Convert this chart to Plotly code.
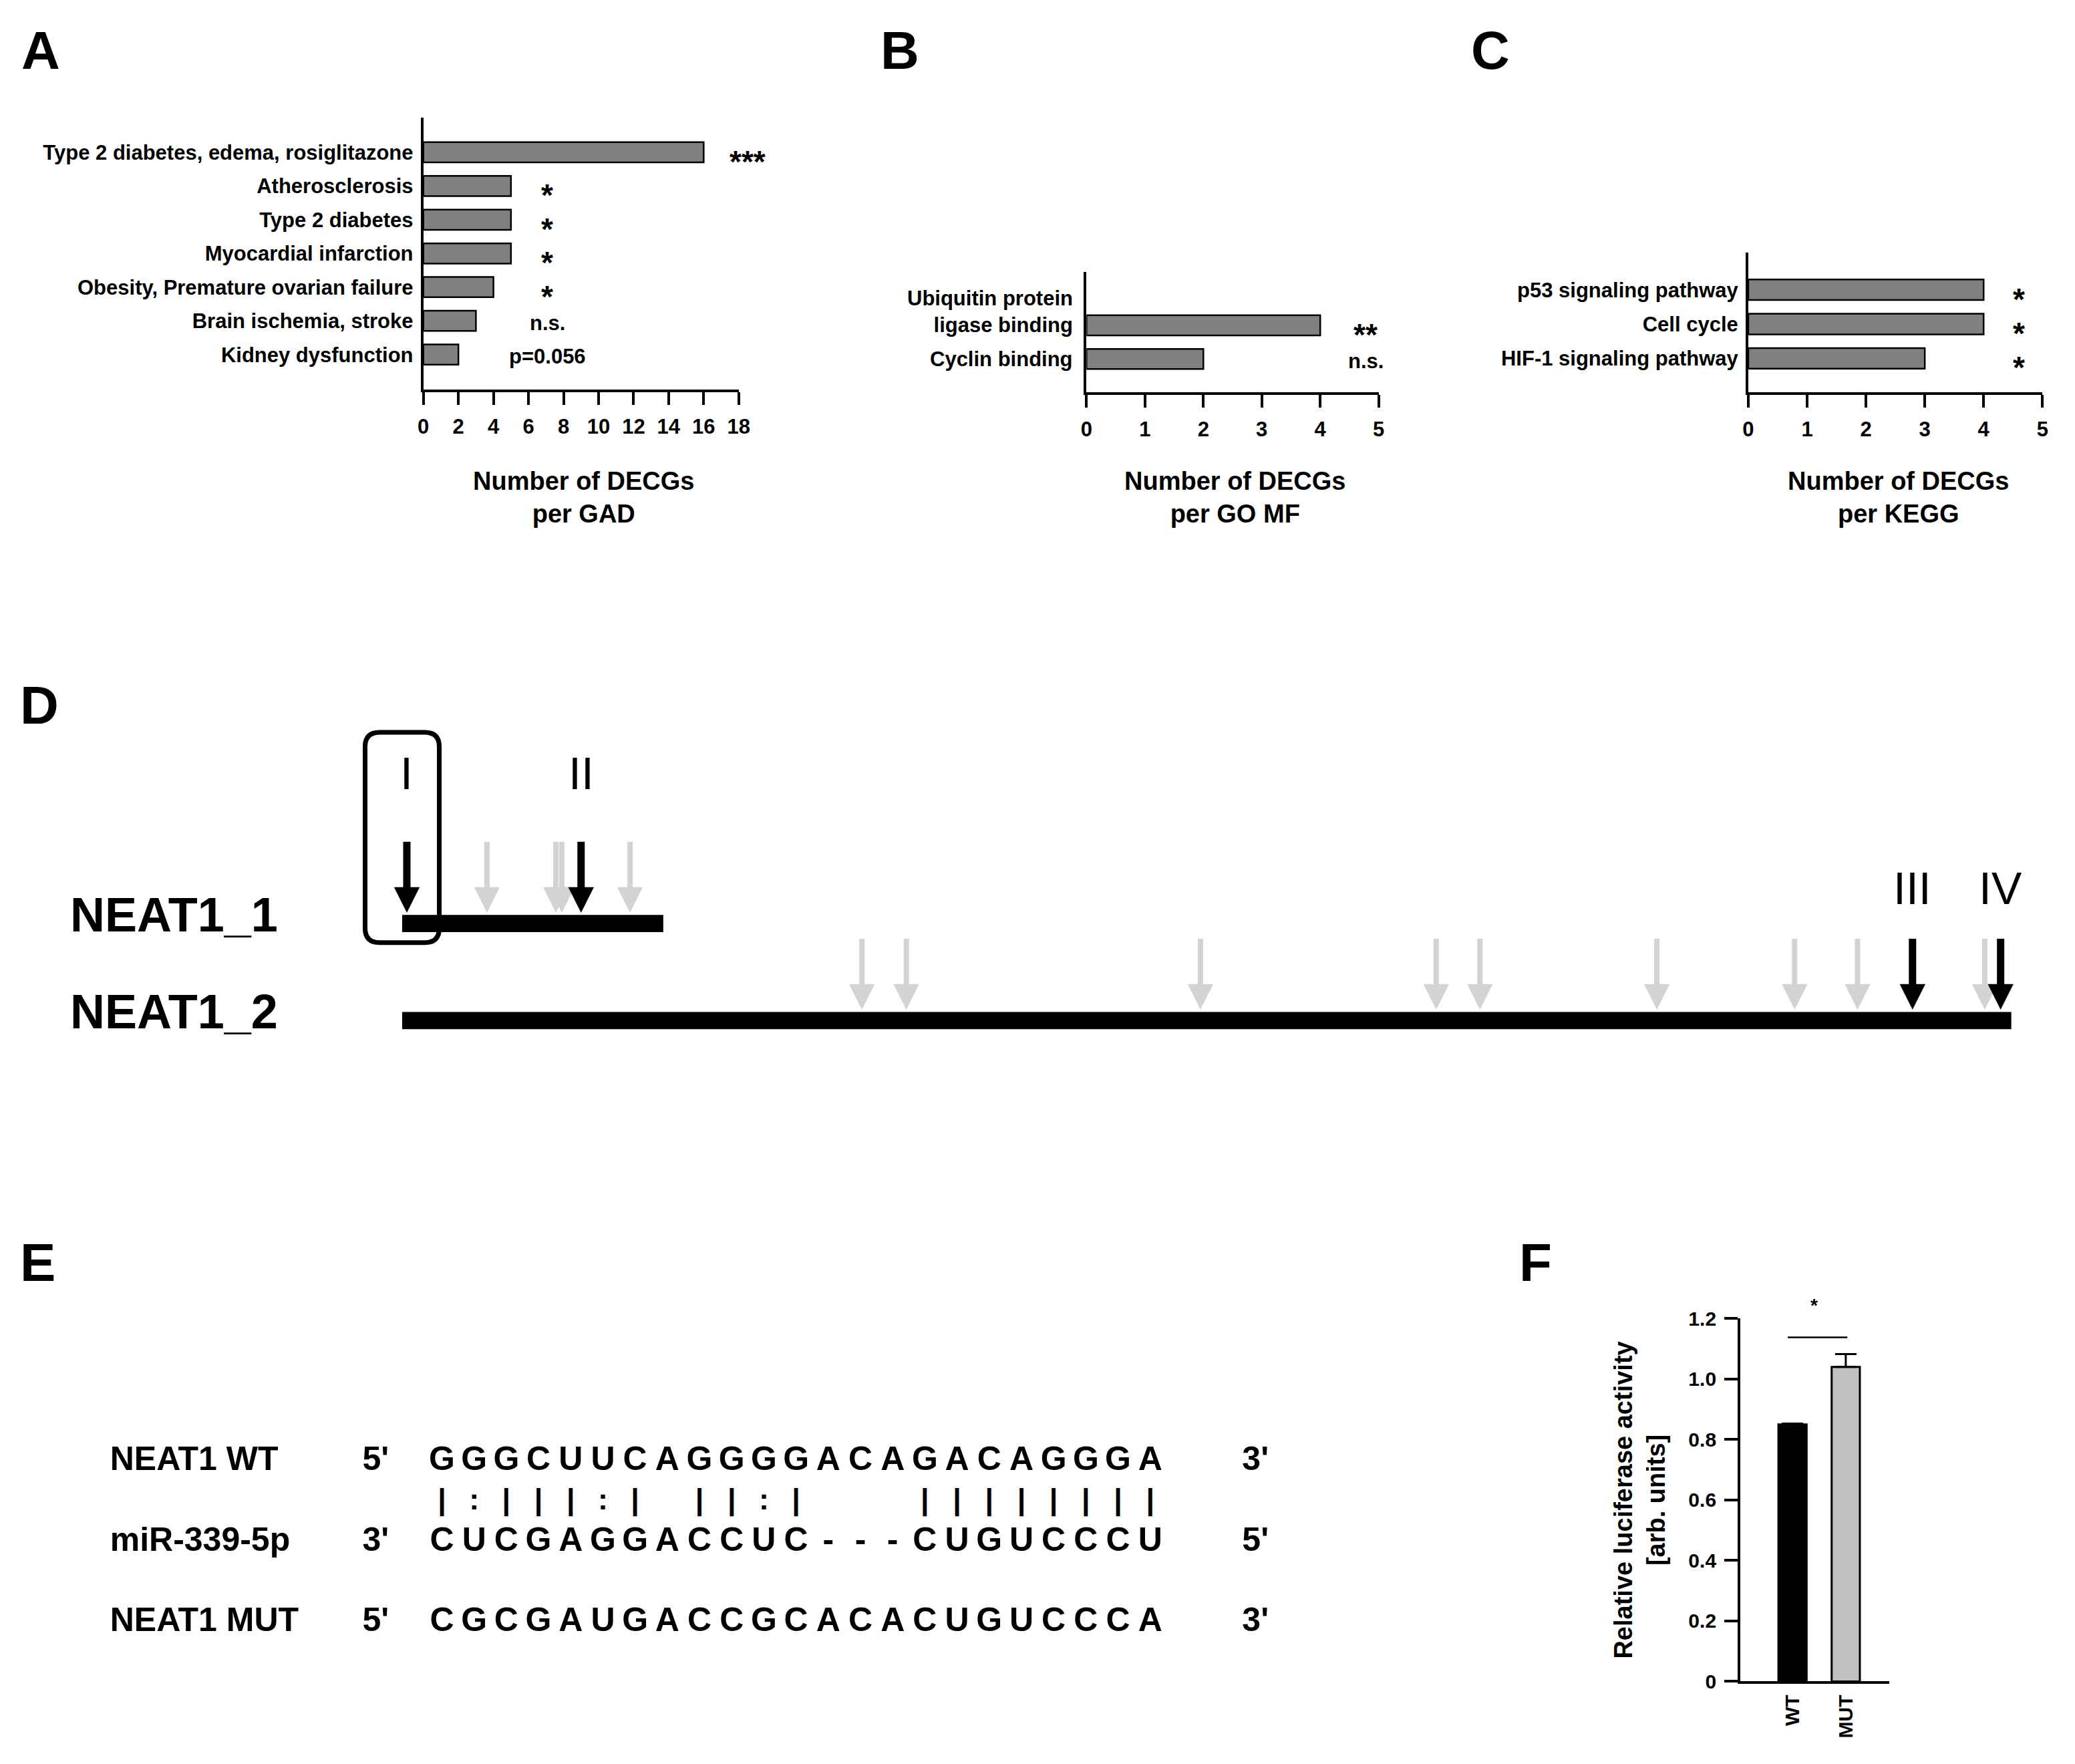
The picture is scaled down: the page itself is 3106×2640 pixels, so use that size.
import plotly.graph_objects as go

W, H = 3106, 2640
FONT = "Liberation Sans, Arial, sans-serif"

# ---------------- data ----------------
# Panel A: GAD disease terms
gad_terms = ["Type 2 diabetes, edema, rosiglitazone", "Atherosclerosis", "Type 2 diabetes",
             "Myocardial infarction", "Obesity, Premature ovarian failure",
             "Brain ischemia, stroke", "Kidney dysfunction"]
gad_counts = [16, 5, 5, 5, 4, 3, 2]
gad_sig = ["***", "*", "*", "*", "*", "n.s.", "p=0.056"]
gad_ticks = [0, 2, 4, 6, 8, 10, 12, 14, 16, 18]

# Panel B: GO molecular function
gomf_terms = ["Ubiquitin protein<br>ligase binding", "Cyclin binding"]
gomf_counts = [4, 2]
gomf_sig = ["**", "n.s."]

# Panel C: KEGG pathways
kegg_terms = ["p53 signaling pathway", "Cell cycle", "HIF-1 signaling pathway"]
kegg_counts = [4, 4, 3]
kegg_sig = ["*", "*", "*"]
count_ticks = [0, 1, 2, 3, 4, 5]

# Panel D: NEAT1 isoforms and miR-339-5p binding sites (nt)
isoform_names = ["NEAT1_1", "NEAT1_2"]
isoform_len_nt = [3690, 22740]
neat1_1_black = [66, 2528]
neat1_1_gray = [1198, 2172, 2256, 3220]
neat1_2_black = [21344, 22589]
neat1_2_gray = [6497, 7124, 11281, 14613, 15231, 17731, 19678, 20567, 22365]
site_labels_1 = ["I", "II"]
site_labels_2 = ["III", "IV"]

# Panel E: sequence alignment
row_names = ["NEAT1 WT", "miR-339-5p", "NEAT1 MUT"]
row_left = ["5'", "3'", "5'"]
row_right = ["3'", "5'", "3'"]
seq_wt = "GGGCUUCAGGGGACAGACAGGGA"
seq_pair = "|:|||:| ||:|   ||||||||"
seq_mir = "CUCGAGGACCUC---CUGUCCCU"
seq_mut = "CGCGAUGACCGCACACUGUCCCA"

# Panel F: luciferase assay
luc_groups = ["WT", "MUT"]
luc_mean = [0.85, 1.04]
luc_sem = [0.003, 0.043]
luc_sig = "*"
luc_ticks = [0, 0.2, 0.4, 0.6, 0.8, 1.0, 1.2]

# ---------------- helpers ----------------
def fx(p):
    return p / W

def fy(p):
    return 1 - p / H

BAR_GRAY = "#808080"
LIGHT = "#d3d3d3"

fig = go.Figure()
annotations = []
shapes = []

def bold(size):
    return dict(family=FONT, size=size, color="black", weight="bold")

def ann(**kw):
    d = dict(showarrow=False, xanchor="center", yanchor="middle")
    d.update(kw)
    annotations.append(d)

def count_axis(dom_px, rng, ticks):
    return dict(domain=[fx(dom_px[0]), fx(dom_px[1])], range=rng, tickvals=ticks,
                ticks="outside", ticklen=19, tickwidth=4, tickcolor="black",
                showline=True, linewidth=4, linecolor="black", showgrid=False,
                zeroline=False, tickfont=bold(31), ticklabelstandoff=6)

def cat_axis(dom_px, rng, show_labels=True):
    return dict(domain=[fy(dom_px[1]), fy(dom_px[0])], type="category", range=rng,
                showline=True, linewidth=4, linecolor="black", ticks="",
                showgrid=False, zeroline=False, tickfont=bold(31),
                showticklabels=show_labels, ticklabelstandoff=5)

def bar_trace(vals, cats, xa, ya):
    return go.Bar(x=vals, y=cats, orientation="h", xaxis=xa, yaxis=ya, width=0.6,
                  marker=dict(color=BAR_GRAY, line=dict(color="black", width=2.5)),
                  showlegend=False, hoverinfo="skip")

STAR_FONT = 46
STAR_SHIFT = -14

def sig_label(text, x, y, xref, yref, xmax, px_per_unit):
    xs = 0
    if x > xmax:
        xs = (x - xmax) * px_per_unit
        x = xmax
    if "*" in text:
        ann(x=x, y=y, xref=xref, yref=yref, text=text, font=bold(STAR_FONT),
            xshift=xs, yshift=STAR_SHIFT)
    else:
        ann(x=x, y=y, xref=xref, yref=yref, text=text, font=bold(31), xshift=xs, yshift=-3)

# ---------------- Panel A ----------------
A_X = (630, 1106)
fig.add_trace(bar_trace(gad_counts, gad_terms, "x", "y"))
for term, c, s in zip(gad_terms, gad_counts, gad_sig):
    xpos = c + 2.5 if c + 2.5 > 8.5 else 7.08
    sig_label(s, xpos, term, "x", "y", 18, (A_X[1] - A_X[0]) / 18)

# ---------------- Panel B ----------------
B_X = (1631, 2072)
fig.add_trace(bar_trace(gomf_counts, gomf_terms, "x2", "y2"))
for term, s in zip(gomf_terms, gomf_sig):
    nl = term.count("<br>")
    ann(x=fx(B_X[0] - 19), y=term, xref="paper", yref="y2", text=term,
        xanchor="right", align="right", font=bold(31), yshift=20 * nl)
    sig_label(s, 4.78, term, "x2", "y2", 5, (B_X[1] - B_X[0]) / 5)

# ---------------- Panel C ----------------
C_X = (2630, 3074)
fig.add_trace(bar_trace(kegg_counts, kegg_terms, "x3", "y3"))
for term, s in zip(kegg_terms, kegg_sig):
    sig_label(s, 4.6, term, "x3", "y3", 5, (C_X[1] - C_X[0]) / 5)

# axis titles A-C
for (x0, x1), txt in [(A_X, "Number of DECGs<br>per GAD"),
                      (B_X, "Number of DECGs<br>per GO MF"),
                      (C_X, "Number of DECGs<br>per KEGG")]:
    ann(x=fx((x0 + x1) / 2 + 4), y=fy(737), xref="paper", yref="paper", text=txt,
        font=bold(38), align="center")

# ---------------- Panel D ----------------
X0_PX, X1_PX = 598, 3027
k = (X1_PX - X0_PX) / isoform_len_nt[1]      # px per nt
TRACK_PX = [1383, 1530]
track_y = [1, 0]
uy_px = (TRACK_PX[1] - TRACK_PX[0])        # px per y unit
D_TOP, D_BOT = 1000, 1700
ux = 1 / k
uy = 1 / uy_px

fig.add_trace(go.Bar(x=isoform_len_nt, y=track_y, base=0, orientation="h", width=26 * uy,
                     marker=dict(color="black", line=dict(width=0)), xaxis="x4", yaxis="y4",
                     showlegend=False, hoverinfo="skip"))

def arrows(sites, ty, color, shaft_w):
    tip = ty + (13 + 4) * uy
    base = tip + 38 * uy
    top = tip + 107 * uy
    sx, sy, hx, hy = [], [], [], []
    for s in sites:
        sx += [s, s, None]
        sy += [top, base - 2 * uy, None]
        hx += [s - 19 * ux, s + 19 * ux, s, s - 19 * ux, None]
        hy += [base, base, tip, base, None]
    fig.add_trace(go.Scatter(x=sx, y=sy, mode="lines", line=dict(color=color, width=shaft_w),
                             xaxis="x4", yaxis="y4", showlegend=False, hoverinfo="skip"))
    fig.add_trace(go.Scatter(x=hx, y=hy, mode="lines", fill="toself", fillcolor=color,
                             line=dict(color=color, width=0.5), xaxis="x4", yaxis="y4",
                             showlegend=False, hoverinfo="skip"))

arrows(neat1_1_gray, track_y[0], LIGHT, 8)
arrows(neat1_2_gray, track_y[1], LIGHT, 8)
arrows(neat1_1_black, track_y[0], "black", 11)
arrows(neat1_2_black, track_y[1], "black", 11)

for lab, s in zip(site_labels_1, neat1_1_black):
    ann(x=s, y=track_y[0] + 228 * uy, xref="x4", yref="y4", text=lab,
        font=dict(family=FONT, size=68, color="black"))
for lab, s in zip(site_labels_2, neat1_2_black):
    ann(x=s, y=track_y[1] + 201 * uy, xref="x4", yref="y4", text=lab,
        font=dict(family=FONT, size=68, color="black"))
for name, ty in zip(isoform_names, track_y):
    ann(x=fx(95), y=ty, xref="paper", yref="y4", text=name, xanchor="left", yshift=13,
        font=bold(72))

# rounded highlight box around site I (centred on the transcript start)
bx0, bx1 = -56 * ux, 56 * ux
by0, by1 = track_y[0] - 29 * uy, track_y[0] + 290 * uy
rx, ry = 22 * ux, 22 * uy
path = (f"M {bx0 + rx},{by1} L {bx1 - rx},{by1} Q {bx1},{by1} {bx1},{by1 - ry} "
        f"L {bx1},{by0 + ry} Q {bx1},{by0} {bx1 - rx},{by0} L {bx0 + rx},{by0} "
        f"Q {bx0},{by0} {bx0},{by0 + ry} L {bx0},{by1 - ry} Q {bx0},{by1} {bx0 + rx},{by1} Z")
shapes.append(dict(type="path", path=path, xref="x4", yref="y4",
                   line=dict(color="black", width=7)))

# ---------------- Panel E ----------------
E_X0, E_PITCH = 658, 48.6
E_ROW0, E_ROWSTEP = 2199, 61
row_y = [0, 2, 4]
pair_y = 1
for seq, ry_ in zip([seq_wt, seq_mir, seq_mut], row_y):
    fig.add_trace(go.Scatter(x=list(range(len(seq))), y=[ry_] * len(seq), mode="text",
                             text=list(seq), textfont=bold(50), xaxis="x5", yaxis="y5",
                             showlegend=False, hoverinfo="skip"))
fig.add_trace(go.Scatter(x=list(range(len(seq_pair))), y=[pair_y] * len(seq_pair), mode="text",
                         text=list(seq_pair), textfont=bold(45), xaxis="x5", yaxis="y5",
                         showlegend=False, hoverinfo="skip"))
name_x = (157 - E_X0) / E_PITCH
left_x = (558 - E_X0) / E_PITCH
right_x = (1886 - E_X0) / E_PITCH
fig.add_trace(go.Scatter(x=[name_x] * 3, y=row_y, mode="text", text=row_names,
                         textposition="middle right", textfont=bold(50), xaxis="x5", yaxis="y5",
                         showlegend=False, hoverinfo="skip"))
fig.add_trace(go.Scatter(x=[left_x] * 3 + [right_x] * 3, y=row_y + row_y, mode="text",
                         text=row_left + row_right, textfont=bold(50), xaxis="x5", yaxis="y5",
                         showlegend=False, hoverinfo="skip"))

# ---------------- Panel F ----------------
F_Y = (1982, 2532)
fig.add_trace(go.Bar(x=[0, 1], y=luc_mean, width=0.53, xaxis="x6", yaxis="y6",
                     marker=dict(color=["black", "#c0c0c0"], line=dict(color="black", width=3)),
                     error_y=dict(type="data", array=luc_sem, arrayminus=[0, 0], symmetric=False,
                                  thickness=3, width=16, color="black"),
                     showlegend=False, hoverinfo="skip"))
sig_y = max(m + e for m, e in zip(luc_mean, luc_sem)) + 0.055
shapes.append(dict(type="line", xref="x6", yref="y6", x0=-0.09, x1=1.03, y0=sig_y, y1=sig_y,
                   line=dict(color="black", width=2.5)))
f_ppu = (F_Y[1] - F_Y[0]) / 1.2
ann(x=0.41, y=1.2, xref="x6", yref="y6", text=luc_sig, font=bold(28),
    yshift=(sig_y + 0.105 - 1.2) * f_ppu)

# ---------------- panel letters ----------------
for lab, (px_, py_) in zip("ABCDEF", [(52, 59), (1349, 59), (2241, 59), (50, 1052),
                                       (48, 1897), (2309, 1897)]):
    ann(x=fx(px_), y=fy(py_), xref="paper", yref="paper", text=lab, font=bold(80))

# ---------------- layout ----------------
d_x_range = [-X0_PX / k, (W - X0_PX) / k]
d_y_range = [(TRACK_PX[1] - D_BOT) / uy_px, (TRACK_PX[1] - D_TOP) / uy_px]
e_x_range = [-E_X0 / E_PITCH, (2100 - E_X0) / E_PITCH]
e_y_range = [(H - E_ROW0) / E_ROWSTEP, (1850 - E_ROW0) / E_ROWSTEP]

fig.update_layout(
    width=W, height=H, margin=dict(l=0, r=0, t=0, b=0),
    paper_bgcolor="white", plot_bgcolor="white", showlegend=False,
    font=dict(family=FONT, color="black"),
    xaxis=dict(anchor="y", **count_axis(A_X, [0, 18], gad_ticks)),
    yaxis=dict(anchor="x", **cat_axis((161, 573), [7.03, -1.03])),
    xaxis2=dict(anchor="y2", **count_axis(B_X, [0, 5], count_ticks)),
    yaxis2=dict(anchor="x2", **cat_axis((395, 577), [1.98, -1.59], show_labels=False)),
    xaxis3=dict(anchor="y3", **count_axis(C_X, [0, 5], count_ticks)),
    yaxis3=dict(anchor="x3", **cat_axis((366, 577), [2.98, -1.08])),
    xaxis4=dict(anchor="y4", domain=[0, 1], range=d_x_range, visible=False),
    yaxis4=dict(anchor="x4", domain=[fy(D_BOT), fy(D_TOP)], range=d_y_range, visible=False),
    xaxis5=dict(anchor="y5", domain=[0, fx(2100)], range=e_x_range, visible=False),
    yaxis5=dict(anchor="x5", domain=[0, fy(1850)], range=e_y_range, visible=False),
    xaxis6=dict(anchor="y6", domain=[fx(2618), fx(2843)], range=[-0.98, 1.82],
                tickvals=[0, 1], ticktext=luc_groups, tickangle=-90, ticks="",
                showline=True, linewidth=4, linecolor="black", showgrid=False, zeroline=False,
                tickfont=bold(30), ticklabelstandoff=4),
    yaxis6=dict(anchor="x6", domain=[fy(F_Y[1]), fy(F_Y[0])], range=[0, 1.2], tickvals=luc_ticks,
                ticktext=["0" if v == 0 else f"{v:.1f}" for v in luc_ticks],
                ticks="outside", ticklen=20, tickwidth=4, tickcolor="black",
                showline=True, linewidth=4, linecolor="black", showgrid=False, zeroline=False,
                tickfont=bold(30), ticklabelstandoff=6,
                title=dict(text="Relative luciferase activity<br>[arb. units]",
                           font=bold(38), standoff=24)),
    annotations=annotations,
    shapes=shapes,
)

fig.write_html("out.html",
               config={"displayModeBar": False},
               post_script="document.body.style.margin='0';"
                           "document.documentElement.style.overflow='hidden';")
